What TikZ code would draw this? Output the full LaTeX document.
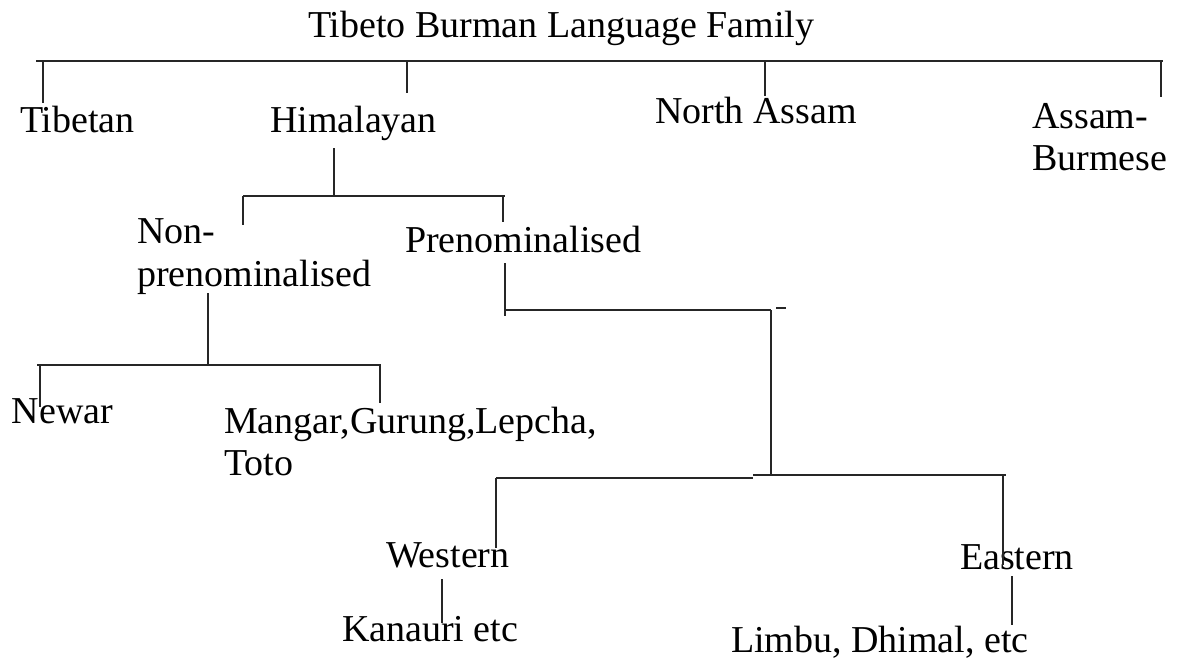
\documentclass[tikz,border=0pt]{standalone}
\usepackage{fontspec}
\setmainfont{Liberation Serif}
\begin{document}
\begin{tikzpicture}[x=1pt,y=-1pt,
  lbl/.style={anchor=base west,inner sep=0pt,outer sep=0pt,font=\fontsize{38}{43}\selectfont,align=left},
  conn/.style={line width=1.6pt,draw=black!85}]
\useasboundingbox (0,0) rectangle (1183,662);
% labels (multi-line labels are anchored at the baseline of their last line)
\node[lbl] (title) at (308,37) {Tibeto Burman Language Family};
\node[lbl] (tib) at (20,132) {Tibetan};
\node[lbl] (him) at (270,132) {Himalayan};
\node[lbl] (na) at (655,123) {North Assam};
\node[lbl,font=\fontsize{38}{42}\selectfont] (ab) at (1032,170) {Assam-\\Burmese};
\node[lbl] (nonp) at (137,286) {Non-\\prenominalised};
\node[lbl] (pren) at (405,252) {Prenominalised};
\node[lbl] (newar) at (12,423) {Newar};
\node[lbl,font=\fontsize{38}{42}\selectfont] (mang) at (224,475) {Mangar,Gurung,Lepcha,\\Toto};
\node[lbl] (west) at (386,567) {Western};
\node[lbl] (east) at (960,569) {Eastern};
\node[lbl] (kan) at (342,641) {Kanauri etc};
\node[lbl] (limbu) at (731,652) {Limbu, Dhimal, etc};
% junction coordinates
\coordinate (tL) at (36,61);   \coordinate (tR) at (1163,61);
\coordinate (tTib) at (43,61); \coordinate (eTib) at (43,103);
\coordinate (tHim) at (407,61); \coordinate (eHim) at (407,93);
\coordinate (tNA) at (765,61); \coordinate (eNA) at (765,96);
\coordinate (tAB) at (1161,61); \coordinate (eAB) at (1161,97);
\coordinate (hS) at (334,148); \coordinate (hJ) at (334,196);
\coordinate (h2L) at (243,196); \coordinate (h2R) at (505,196);
\coordinate (eNon) at (243,225);
\coordinate (h2P) at (503,196); \coordinate (ePre) at (503,222);
\coordinate (pS) at (505,263); \coordinate (pB) at (505,316);
\coordinate (pJ) at (505,310); \coordinate (pR) at (771,310);
\coordinate (tick1) at (776,308); \coordinate (tick2) at (786,308);
\coordinate (vB) at (771,475);
\coordinate (nS) at (208,293); \coordinate (nJ) at (208,365);
\coordinate (n2L) at (37,365); \coordinate (n2R) at (381,365);
\coordinate (tNew) at (40,365); \coordinate (eNew) at (40,407);
\coordinate (tMan) at (380,365); \coordinate (eMan) at (380,403);
\coordinate (lL) at (496,478); \coordinate (lM) at (753,478);
\coordinate (lM2) at (753,475); \coordinate (lR) at (1006,475);
\coordinate (eWest) at (496,548);
\coordinate (tEast) at (1003,475); \coordinate (eEast) at (1003,565);
\coordinate (wS) at (442,579); \coordinate (eKan) at (442,623);
\coordinate (eS) at (1012,576); \coordinate (eLim) at (1012,625);
% connectors
\draw[conn] (tL) -- (tR);
\draw[conn] (tTib) -- (eTib);
\draw[conn] (tHim) -- (eHim);
\draw[conn] (tNA) -- (eNA);
\draw[conn] (tAB) -- (eAB);
\draw[conn] (hS) -- (hJ);
\draw[conn] (h2L) -- (h2R);
\draw[conn] (h2L) -- (eNon);
\draw[conn] (h2P) -- (ePre);
\draw[conn] (pS) -- (pB);
\draw[conn] (pJ) -- (pR);
\draw[conn] (tick1) -- (tick2);
\draw[conn] (pR) -- (vB);
\draw[conn] (nS) -- (nJ);
\draw[conn] (n2L) -- (n2R);
\draw[conn] (tNew) -- (eNew);
\draw[conn] (tMan) -- (eMan);
\draw[conn] (lL) -- (lM);
\draw[conn] (lM2) -- (lR);
\draw[conn] (lL) -- (eWest);
\draw[conn] (tEast) -- (eEast);
\draw[conn] (wS) -- (eKan);
\draw[conn] (eS) -- (eLim);
\end{tikzpicture}
\end{document}
